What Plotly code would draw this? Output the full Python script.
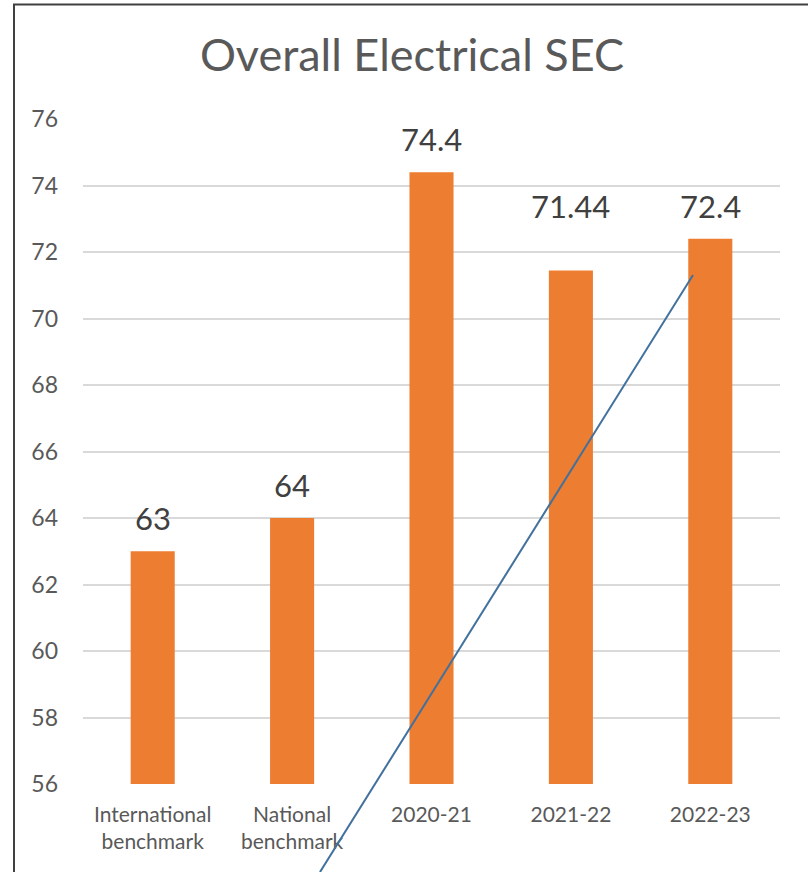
import plotly.graph_objects as go

# ---- data ----
categories = ["International<br>benchmark", "National<br>benchmark", "2020-21", "2021-22", "2022-23"]
values = [63, 64, 74.4, 71.44, 72.4]
value_labels = ["63", "64", "74.4", "71.44", "72.4"]
y_ticks = [56, 58, 60, 62, 64, 66, 68, 70, 72, 74, 76]
# hand-drawn straight line seen on the chart (category-index units, value units)
trend_x = [1.20, 3.876]
trend_y = [53.35, 71.31]

# ---- layout geometry (pixels) ----
W, H = 808, 872
PL, PR, PT, PB = 83, 780, 119, 784
YMIN, YMAX = 56, 76
XMIN, XMAX = -0.5, 4.5

xpx = (PR - PL) / (XMAX - XMIN)
ypx = (PB - PT) / (YMAX - YMIN)

FONT = "Lato"
GREY = "#595959"
label_shift = [33, 33, 33, 65, 33]  # pixel offsets of data labels above bars

fig = go.Figure()
x_idx = list(range(len(categories)))
fig.add_trace(go.Bar(
    x=x_idx, y=values, width=0.316,
    marker=dict(color="#ED7D31", line=dict(width=0)),
    xaxis="x", yaxis="y", showlegend=False, hoverinfo="skip",
))

for xi, v, t, s in zip(x_idx, values, value_labels, label_shift):
    fig.add_annotation(x=xi, y=v, xref="x", yref="y", text=t, showarrow=False,
                       yanchor="middle", yshift=s,
                       font=dict(family=FONT, size=31, color="#404040"))

# full-page overlay subplot so the line can run past the plot area
x2_range = [XMIN + (0 - PL) / xpx, XMIN + (W - PL) / xpx]
y2_range = [YMIN - (H - PB) / ypx, YMAX + PT / ypx]
fig.add_trace(go.Scatter(
    x=trend_x, y=trend_y, mode="lines",
    line=dict(color="#41719C", width=2),
    xaxis="x2", yaxis="y2", showlegend=False, hoverinfo="skip",
))

fig.update_layout(
    width=W, height=H,
    margin=dict(l=0, r=0, t=0, b=0),
    paper_bgcolor="white",
    plot_bgcolor="rgba(0,0,0,0)",
    title=dict(text="Overall Electrical SEC", x=412 / W, y=1 - 55 / H,
               xanchor="center", yanchor="middle",
               font=dict(family=FONT, size=45, color=GREY)),
    xaxis=dict(domain=[PL / W, PR / W], range=[XMIN, XMAX],
               tickvals=x_idx, ticktext=categories,
               showgrid=False, zeroline=False, showline=False,
               ticks="", automargin=False, ticklabelstandoff=16,
               tickfont=dict(family=FONT, size=21, color=GREY)),
    yaxis=dict(domain=[1 - PB / H, 1 - PT / H], range=[YMIN, YMAX],
               tickvals=y_ticks, showgrid=True, gridcolor="#D9D9D9", gridwidth=1.5,
               zeroline=False, showline=False, ticks="", automargin=False,
               ticklabelstandoff=24,
               tickfont=dict(family=FONT, size=23, color=GREY)),
    xaxis2=dict(domain=[0, 1], range=x2_range, anchor="y2", visible=False,
                showgrid=False, zeroline=False, fixedrange=True),
    yaxis2=dict(domain=[0, 1], range=y2_range, anchor="x2", visible=False,
                showgrid=False, zeroline=False, fixedrange=True),
    shapes=[dict(type="path", xref="paper", yref="paper",
                 path=f"M {14 / W} 0 L {14 / W} {1 - 4.5 / H} L 1 {1 - 4.5 / H}",
                 line=dict(color="#404040", width=2))],
)

fig.write_html("out.html")
